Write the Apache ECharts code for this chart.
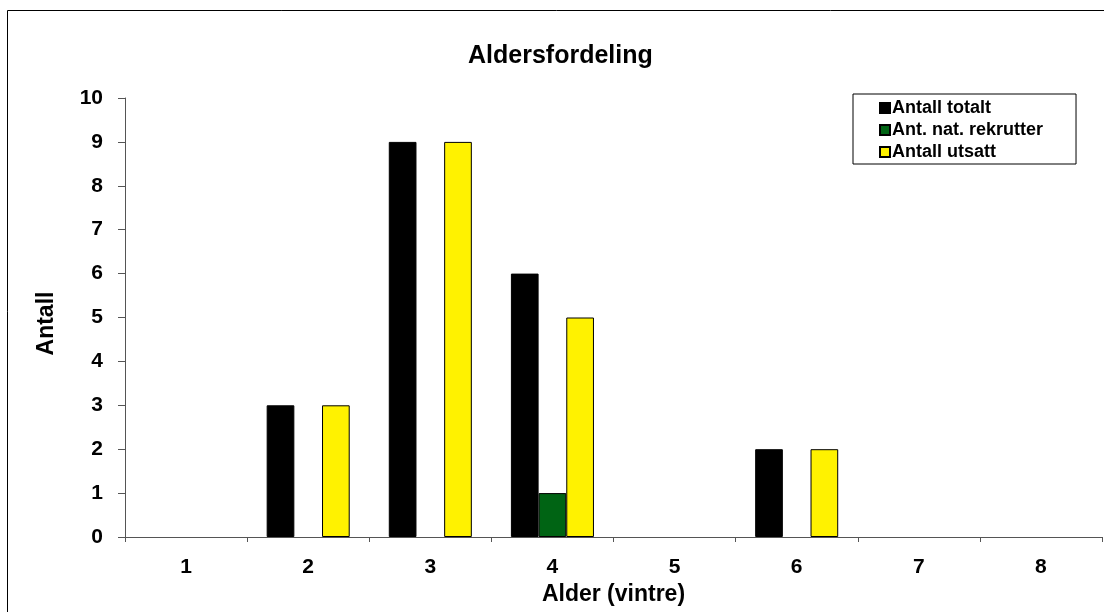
<!DOCTYPE html>
<html>
<head>
<meta charset="utf-8">
<script src="https://cdn.jsdelivr.net/npm/echarts@6/dist/echarts.min.js"></script>
<style>
html,body{margin:0;padding:0;background:#fff;}
#chart{width:1104px;height:612px;}
</style>
</head>
<body>
<div id="chart"></div>
<script>
var categories = ['1','2','3','4','5','6','7','8'];
var antallTotalt = [0,3,9,6,0,2,0,0];
var antNatRekrutter = [0,0,0,1,0,0,0,0];
var antallUtsatt = [0,3,9,5,0,2,0,0];
var seriesNames = ['Antall totalt','Ant. nat. rekrutter','Antall utsatt'];

// zero-height bars are not drawn (no outline on the axis)
function hideZero(arr){ return arr.map(function(v){ return v === 0 ? '-' : v; }); }

var FONT = '"Liberation Sans", Arial, sans-serif';
var chart = echarts.init(document.getElementById('chart'));
var border = {borderColor:'#000', borderWidth:1};
chart.setOption({
  animation:false,
  textStyle:{fontFamily:FONT},
  title:{text:'Aldersfordeling', left:463, top:39,
    textStyle:{fontFamily:FONT, fontWeight:'bold', fontSize:25, color:'#000'}},
  graphic:[{type:'rect', shape:{x:7.5,y:10.5,width:1200,height:1000},
    style:{fill:'none', stroke:'#000', lineWidth:1}, z:-1}],
  legend:{
    orient:'vertical', left:853, top:94,
    padding:[5,33,3,26], itemGap:4, itemWidth:10, itemHeight:10,
    backgroundColor:'#fff', borderColor:'#000', borderWidth:1,
    icon:'rect',
    textStyle:{fontFamily:FONT, fontWeight:'bold', fontSize:18, color:'#000', padding:[0,0,0,-3]},
    data:seriesNames
  },
  grid:{left:125, right:2, top:98, bottom:75, containLabel:false},
  xAxis:{
    type:'category', data:categories,
    name:'Alder (vintre)', nameLocation:'middle', nameGap:44,
    nameTextStyle:{fontFamily:FONT, fontWeight:'bold', fontSize:23, color:'#000'},
    axisLine:{lineStyle:{color:'#555', width:1}},
    axisTick:{show:true, length:5, inside:false, lineStyle:{color:'#555'}},
    axisLabel:{fontFamily:FONT, fontWeight:'bold', fontSize:21, color:'#000', margin:20}
  },
  yAxis:{
    type:'value', min:0, max:10, interval:1,
    name:'Antall', nameLocation:'middle', nameGap:67,
    nameTextStyle:{fontFamily:FONT, fontWeight:'bold', fontSize:23, color:'#000', padding:[0,12,0,0]},
    axisLine:{show:true, lineStyle:{color:'#555', width:1}},
    axisTick:{show:true, length:7, lineStyle:{color:'#555'}},
    splitLine:{show:false},
    axisLabel:{fontFamily:FONT, fontWeight:'bold', fontSize:21, color:'#000', margin:22}
  },
  series:[
    {name:seriesNames[0], type:'bar', data:hideZero(antallTotalt), barGap:'0%', barCategoryGap:'32%',
      itemStyle:Object.assign({color:'#000000'}, border)},
    {name:seriesNames[1], type:'bar', data:hideZero(antNatRekrutter), barGap:'0%', barCategoryGap:'32%',
      itemStyle:Object.assign({color:'#006414'}, border)},
    {name:seriesNames[2], type:'bar', data:hideZero(antallUtsatt), barGap:'0%', barCategoryGap:'32%',
      itemStyle:Object.assign({color:'#FFF200'}, border)}
  ]
});
</script>
</body>
</html>
